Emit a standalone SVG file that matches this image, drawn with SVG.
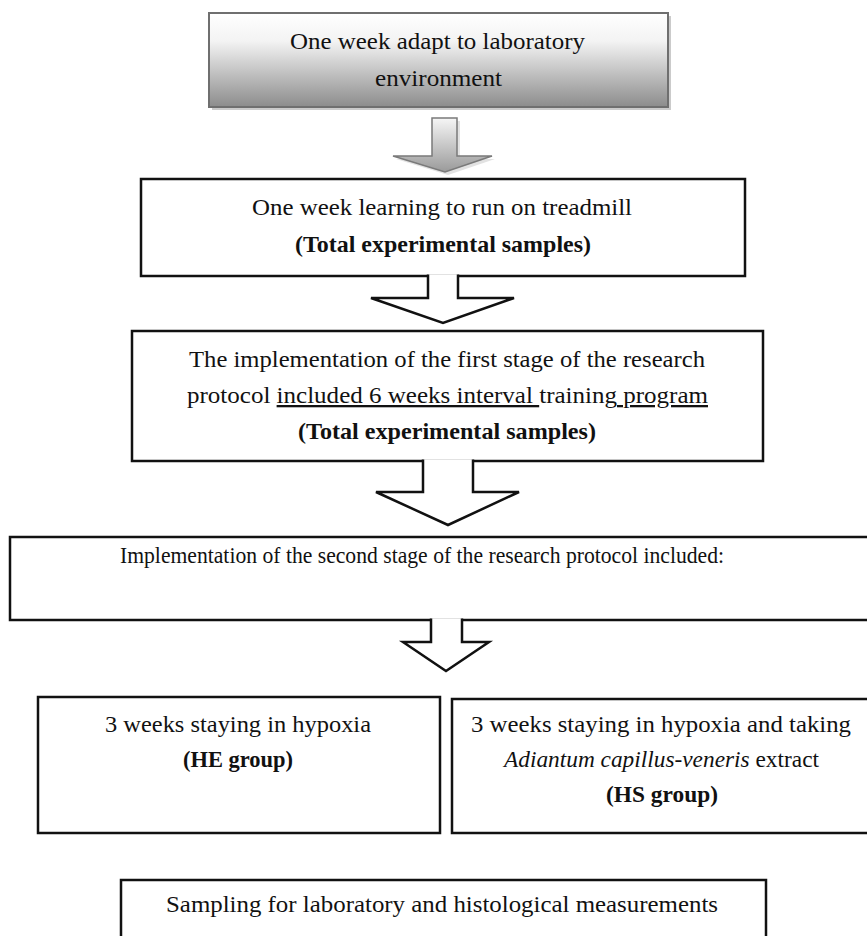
<svg xmlns="http://www.w3.org/2000/svg" width="867" height="936" viewBox="0 0 867 936">
<defs>
<linearGradient id="gBox" x1="0" y1="0" x2="0" y2="1">
<stop offset="0" stop-color="#ffffff"/>
<stop offset="0.3" stop-color="#f3f3f3"/>
<stop offset="1" stop-color="#8c8c8c"/>
</linearGradient>
<linearGradient id="gArrow" x1="0" y1="0" x2="0" y2="1">
<stop offset="0" stop-color="#f6f6f6"/>
<stop offset="1" stop-color="#9a9a9a"/>
</linearGradient>
</defs>
<style>
.box{fill:#fff;stroke:#111;stroke-width:2.5}
.arr{fill:#fff;stroke:#111;stroke-width:2.5;stroke-linejoin:miter}
text{font-family:"Liberation Serif","Times New Roman",serif;font-size:23px;fill:#111}
.b{font-weight:bold}
.u{text-decoration:underline}
</style>
<rect width="867" height="936" fill="#fff"/>

<g id="node-adapt">
<rect x="212" y="16" width="459" height="94" fill="#cbcbcb"/>
<rect x="209" y="13" width="459" height="94" fill="url(#gBox)" stroke="#6f6f6f" stroke-width="2"/>
<text x="290" y="49" textLength="295" lengthAdjust="spacingAndGlyphs">One week adapt to laboratory</text>
<text x="375" y="86" textLength="127" lengthAdjust="spacingAndGlyphs">environment</text>
</g>

<g id="node-learn">
<rect class="box" x="141" y="179" width="604" height="97"/>
<text x="252" y="215" textLength="380" lengthAdjust="spacingAndGlyphs">One week learning to run on treadmill</text>
<text class="b" x="295" y="252" textLength="296" lengthAdjust="spacingAndGlyphs">(Total experimental samples)</text>
</g>

<g id="node-stage1">
<rect class="box" x="132" y="331" width="631" height="130"/>
<text x="189" y="367" textLength="516" lengthAdjust="spacingAndGlyphs">The implementation of the first stage of the research</text>
<text x="187" y="403" textLength="521" lengthAdjust="spacingAndGlyphs">protocol <tspan class="u">included 6 weeks interval </tspan>training<tspan class="u"> program</tspan></text>
<text class="b" x="298" y="439" textLength="298" lengthAdjust="spacingAndGlyphs">(Total experimental samples)</text>
</g>

<g id="node-stage2">
<rect class="box" x="10" y="537" width="862" height="83"/>
<text x="120" y="563" textLength="604" lengthAdjust="spacingAndGlyphs">Implementation of the second stage of the research protocol included:</text>
</g>

<g id="node-he">
<rect class="box" x="38" y="697" width="402" height="136"/>
<text x="105" y="732" textLength="266" lengthAdjust="spacingAndGlyphs">3 weeks staying in hypoxia</text>
<text class="b" x="183" y="767" textLength="110" lengthAdjust="spacingAndGlyphs">(HE group)</text>
</g>

<g id="node-hs">
<rect class="box" x="452" y="699" width="420" height="134"/>
<text x="471" y="732" textLength="380" lengthAdjust="spacingAndGlyphs">3 weeks staying in hypoxia and taking</text>
<text x="504" y="767" textLength="315" lengthAdjust="spacingAndGlyphs"><tspan font-style="italic">Adiantum capillus-veneris</tspan> extract</text>
<text class="b" x="606" y="802" textLength="112" lengthAdjust="spacingAndGlyphs">(HS group)</text>
</g>

<g id="node-sampling">
<rect class="box" x="121" y="880" width="645" height="70"/>
<text x="166" y="912" textLength="552" lengthAdjust="spacingAndGlyphs">Sampling for laboratory and histological measurements</text>
</g>

<g id="connectors">
<path d="M435 121 H460 V159 H495 L448 175 L396 159 H435 Z" fill="#d6d6d6" opacity="0.7"/>
<path d="M432 118 H457 V156 H492 L445 172 L393 156 H432 Z" fill="url(#gArrow)" stroke="#7a7a7a" stroke-width="1.5" stroke-linejoin="miter"/>
<path class="arr" d="M428 274.5 V298 H371 L443 323 L514 298 H458 V274.5"/>
<path class="arr" d="M423 459.5 V492 H376 L448 525 L519 492 H473 V459.5"/>
<path class="arr" d="M431 618.5 V642 H403 L446 671 L489 642 H462 V618.5"/>
</g>
</svg>
